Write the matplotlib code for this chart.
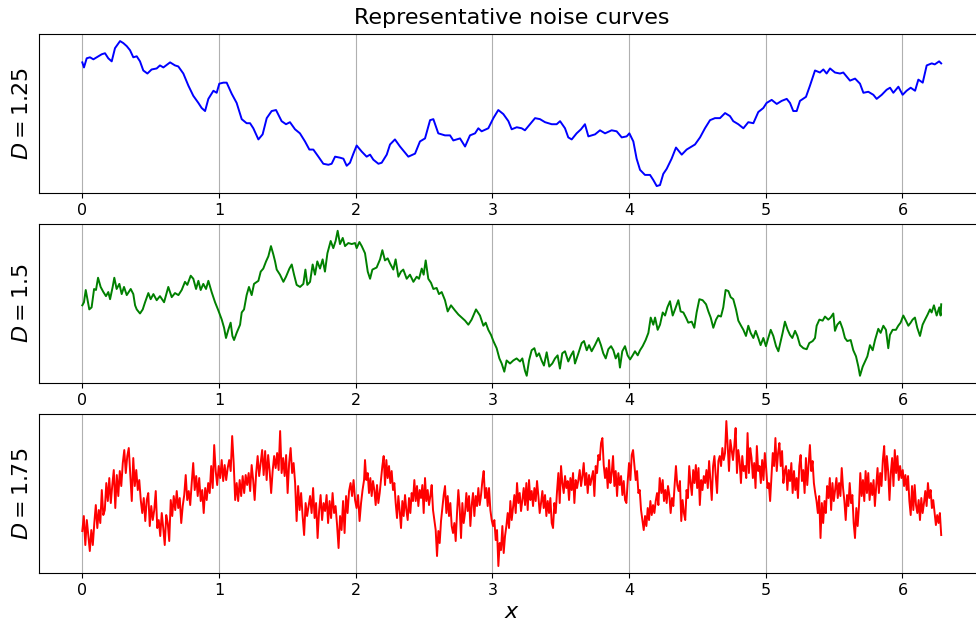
import numpy as np
import matplotlib
matplotlib.use("Agg")
import matplotlib.pyplot as plt

# values (x in radians, y in arbitrary units)
blue_x = [0.000, 0.012, 0.032, 0.056, 0.081, 0.105, 0.142, 0.166, 0.190, 0.215,
          0.239, 0.276, 0.300, 0.325, 0.349, 0.373, 0.398, 0.422, 0.446, 0.476,
          0.507, 0.544, 0.568, 0.593, 0.642, 0.678, 0.702, 0.739, 0.776, 0.812,
          0.849, 0.873, 0.898, 0.922, 0.959, 0.983, 1.002, 1.032, 1.056, 1.093,
          1.129, 1.166, 1.202, 1.227, 1.251, 1.288, 1.319, 1.349, 1.385, 1.417,
          1.458, 1.490, 1.519, 1.556, 1.592, 1.629, 1.661, 1.690, 1.727, 1.763,
          1.800, 1.824, 1.849, 1.885, 1.910, 1.934, 1.958, 1.983, 2.007, 2.044,
          2.080,
          2.105, 2.129, 2.166, 2.190, 2.227, 2.251, 2.287, 2.324, 2.385, 2.434,
          2.470, 2.507, 2.544, 2.568, 2.604, 2.653, 2.690, 2.714, 2.763, 2.800,
          2.836, 2.873, 2.897, 2.921, 2.970, 3.007, 3.043, 3.080, 3.117, 3.141,
          3.178, 3.214, 3.238, 3.263, 3.312, 3.348, 3.385, 3.434, 3.470, 3.495,
          3.531, 3.555, 3.580, 3.616, 3.648, 3.677, 3.702, 3.751, 3.787, 3.824,
          3.872, 3.909, 3.946, 3.982, 4.002, 4.031, 4.055, 4.080, 4.116, 4.153,
          4.177, 4.202, 4.226,
          4.250, 4.275, 4.311, 4.343, 4.385, 4.421, 4.458, 4.482, 4.519, 4.555,
          4.592, 4.628, 4.665, 4.702, 4.738, 4.762, 4.799, 4.836, 4.872, 4.909,
          4.945, 4.982, 5.006, 5.043, 5.080, 5.116, 5.153, 5.177, 5.201, 5.226,
          5.250, 5.294, 5.323, 5.360, 5.396, 5.421, 5.445, 5.470, 5.506, 5.543,
          5.567, 5.616, 5.653, 5.689, 5.714, 5.750, 5.787, 5.811, 5.848, 5.884,
          5.909, 5.933, 5.970, 6.001, 6.030, 6.060, 6.092, 6.116, 6.148, 6.177,
          6.214, 6.236, 6.268, 6.283]
blue_y = [1.30, 1.25, 1.34, 1.35, 1.33, 1.35, 1.38, 1.39, 1.34, 1.31,
          1.44, 1.51, 1.49, 1.46, 1.42, 1.35, 1.36, 1.31, 1.22, 1.19,
          1.23, 1.24, 1.27, 1.25, 1.30, 1.27, 1.26, 1.19, 1.07, 0.97,
          0.90, 0.85, 0.82, 0.94, 1.02, 1.00, 1.09, 1.10, 1.10, 0.99,
          0.90, 0.74, 0.70, 0.70, 0.65, 0.54, 0.59, 0.75, 0.82, 0.83,
          0.72, 0.69, 0.71, 0.64, 0.60, 0.52, 0.44, 0.44, 0.37, 0.30,
          0.29, 0.30, 0.37, 0.36, 0.35, 0.28, 0.31, 0.40, 0.48, 0.42,
          0.37,
          0.39, 0.34, 0.30, 0.31, 0.39, 0.49, 0.54, 0.47, 0.37, 0.40,
          0.52, 0.55, 0.73, 0.74, 0.60, 0.58, 0.58, 0.53, 0.55, 0.47,
          0.58, 0.60, 0.65, 0.62, 0.65, 0.75, 0.83, 0.79, 0.72, 0.64,
          0.66, 0.65, 0.63, 0.67, 0.75, 0.74, 0.71, 0.69, 0.69, 0.72,
          0.65, 0.56, 0.54, 0.60, 0.64, 0.69, 0.57, 0.59, 0.63, 0.60,
          0.63, 0.62, 0.56, 0.57, 0.60, 0.52, 0.35, 0.24, 0.19, 0.19,
          0.14, 0.08, 0.09,
          0.20, 0.25, 0.35, 0.46, 0.39, 0.44, 0.47, 0.49, 0.56, 0.65,
          0.73, 0.75, 0.75, 0.80, 0.77, 0.72, 0.69, 0.65, 0.71, 0.70,
          0.81, 0.85, 0.90, 0.93, 0.89, 0.92, 0.94, 0.90, 0.82, 0.82,
          0.92, 0.96, 1.07, 1.22, 1.20, 1.23, 1.19, 1.24, 1.20, 1.19,
          1.20, 1.12, 1.14, 1.09, 1.00, 1.01, 0.98, 0.94, 0.98, 1.03,
          1.05, 1.00, 1.06, 0.98, 1.02, 1.05, 1.02, 1.13, 1.10, 1.27,
          1.29, 1.28, 1.31, 1.29]

green_x = [0.000, 0.012, 0.025, 0.037, 0.051, 0.068, 0.086, 0.100, 0.115, 0.134,
           0.154, 0.173, 0.190, 0.203, 0.222, 0.234, 0.251, 0.271, 0.288, 0.305,
           0.325, 0.354, 0.373, 0.386, 0.398, 0.422, 0.442, 0.459, 0.483, 0.500,
           0.520, 0.544, 0.568, 0.598, 0.629, 0.654, 0.678, 0.703, 0.727, 0.751,
           0.768, 0.793, 0.812, 0.832, 0.849, 0.866, 0.885, 0.905, 0.922, 0.946,
           0.971, 0.995, 1.020, 1.037, 1.051, 1.068, 1.085, 1.098, 1.110, 1.129,
           1.154, 1.166, 1.183, 1.202, 1.219, 1.239, 1.256, 1.288, 1.305, 1.324,
           1.344, 1.361, 1.380, 1.397, 1.410, 1.422, 1.446, 1.471, 1.490, 1.515,
           1.532, 1.549, 1.568, 1.593, 1.617, 1.632, 1.646, 1.666, 1.685, 1.702,
           1.719, 1.739, 1.758, 1.775, 1.793, 1.817, 1.836, 1.853, 1.868, 1.885,
           1.905, 1.922, 1.946, 1.971, 1.995, 2.007, 2.027, 2.044,
           2.068, 2.088, 2.105, 2.122, 2.153, 2.178, 2.195, 2.214, 2.234, 2.251,
           2.275, 2.292, 2.312, 2.331, 2.348, 2.373, 2.397, 2.422, 2.446, 2.463,
           2.483, 2.497, 2.512, 2.531, 2.551, 2.568, 2.592, 2.609, 2.629, 2.653,
           2.673, 2.697, 2.726, 2.751, 2.775, 2.800, 2.824, 2.848, 2.880, 2.909,
           2.934, 2.951, 2.970, 2.990, 3.007, 3.031, 3.051, 3.068, 3.087, 3.104,
           3.129, 3.153, 3.177, 3.202, 3.219, 3.238, 3.251, 3.268, 3.287, 3.307,
           3.324, 3.341, 3.360, 3.377, 3.397, 3.416, 3.438, 3.458, 3.477, 3.494,
           3.511, 3.531, 3.555, 3.575, 3.592, 3.604, 3.629, 3.653, 3.670, 3.690,
           3.707, 3.726, 3.750, 3.775, 3.794, 3.811, 3.829, 3.848, 3.868, 3.885,
           3.902, 3.921, 3.933, 3.950, 3.970, 3.989, 4.007, 4.026, 4.043, 4.063,
           4.080, 4.099, 4.121, 4.141, 4.158, 4.177, 4.190, 4.209,
           4.226, 4.246, 4.263, 4.280, 4.299, 4.319, 4.336, 4.360, 4.377, 4.397,
           4.416, 4.433, 4.458, 4.477, 4.494, 4.514, 4.538, 4.563, 4.580, 4.597,
           4.616, 4.636, 4.653, 4.672, 4.689, 4.706, 4.726, 4.743, 4.762, 4.782,
           4.799, 4.819, 4.836, 4.855, 4.872, 4.889, 4.909, 4.926, 4.945, 4.962,
           4.982, 5.001, 5.018, 5.036, 5.055, 5.075, 5.092, 5.109, 5.123, 5.140,
           5.160, 5.177, 5.194, 5.214, 5.231, 5.250, 5.275, 5.299, 5.318, 5.343,
           5.360, 5.372, 5.392, 5.416, 5.433, 5.457, 5.474, 5.494, 5.506, 5.523,
           5.543, 5.562, 5.579, 5.596, 5.621, 5.640, 5.660, 5.677, 5.689, 5.709,
           5.726, 5.743, 5.762, 5.782, 5.799, 5.823, 5.840, 5.860, 5.879, 5.896,
           5.908, 5.928, 5.952, 5.969, 5.986, 6.006, 6.025, 6.043, 6.060, 6.074,
           6.091, 6.108, 6.128, 6.147, 6.165, 6.184, 6.201, 6.213, 6.230, 6.250,
           6.269, 6.279, 6.283]
green_y = [0.77, 0.80, 0.92, 0.83, 0.73, 0.75, 0.93, 0.92, 1.04, 0.95,
           0.90, 0.86, 0.90, 0.83, 0.95, 1.04, 0.93, 0.98, 0.88, 0.95,
           0.87, 0.93, 0.88, 0.77, 0.73, 0.69, 0.73, 0.80, 0.89, 0.83,
           0.88, 0.82, 0.86, 0.80, 0.95, 0.85, 0.89, 0.87, 0.92, 1.00,
           0.97, 1.06, 1.03, 0.93, 1.01, 0.92, 0.98, 0.93, 1.01, 0.90,
           0.80, 0.72, 0.63, 0.55, 0.45, 0.53, 0.60, 0.47, 0.43, 0.50,
           0.58, 0.70, 0.73, 0.87, 0.95, 0.87, 0.98, 1.01, 1.10, 1.13,
           1.20, 1.25, 1.35, 1.27, 1.20, 1.12, 1.07, 1.00, 1.05, 1.13,
           1.17, 1.07, 0.97, 0.95, 0.98, 1.12, 0.97, 1.00, 1.17, 1.07,
           1.20, 1.13, 1.22, 1.10, 1.28, 1.40, 1.33, 1.40, 1.50, 1.37,
           1.43, 1.35, 1.38, 1.37, 1.38, 1.33, 1.39, 1.35,
           1.28, 1.10, 1.03, 1.12, 1.14, 1.22, 1.31, 1.21, 1.23, 1.18,
           1.12, 1.22, 1.05, 1.10, 1.12, 1.03, 1.07, 1.00, 1.05, 1.03,
           1.13, 1.07, 1.21, 1.03, 0.99, 0.93, 0.94, 0.88, 0.90, 0.82,
           0.71, 0.77, 0.72, 0.68, 0.65, 0.62, 0.58, 0.63, 0.73, 0.67,
           0.57, 0.60, 0.53, 0.48, 0.42, 0.35, 0.25, 0.20, 0.12, 0.23,
           0.20, 0.23, 0.25, 0.22, 0.25, 0.13, 0.08, 0.23, 0.33, 0.35,
           0.27, 0.30, 0.23, 0.18, 0.31, 0.17, 0.20, 0.25, 0.28, 0.15,
           0.30, 0.32, 0.22, 0.28, 0.32, 0.20, 0.30, 0.40, 0.42, 0.33,
           0.38, 0.32, 0.38, 0.45, 0.38, 0.30, 0.25, 0.34, 0.37, 0.33,
           0.25, 0.30, 0.16, 0.32, 0.37, 0.28, 0.24, 0.28, 0.32, 0.28,
           0.33, 0.37, 0.43, 0.50, 0.65, 0.58, 0.65, 0.53,
           0.58, 0.70, 0.67, 0.75, 0.81, 0.67, 0.73, 0.82, 0.71, 0.70,
           0.65, 0.60, 0.61, 0.55, 0.70, 0.83, 0.82, 0.78, 0.71, 0.65,
           0.55, 0.63, 0.67, 0.66, 0.75, 0.92, 0.91, 0.85, 0.83, 0.73,
           0.62, 0.57, 0.53, 0.47, 0.57, 0.50, 0.45, 0.52, 0.45, 0.38,
           0.45, 0.37, 0.45, 0.53, 0.47, 0.37, 0.32, 0.42, 0.50, 0.61,
           0.53, 0.48, 0.45, 0.52, 0.47, 0.38, 0.35, 0.34, 0.40, 0.42,
           0.45, 0.57, 0.63, 0.62, 0.66, 0.63, 0.65, 0.69, 0.52, 0.58,
           0.61, 0.54, 0.45, 0.42, 0.43, 0.33, 0.27, 0.17, 0.08, 0.17,
           0.22, 0.27, 0.38, 0.33, 0.43, 0.54, 0.50, 0.57, 0.53, 0.35,
           0.48, 0.53, 0.53, 0.57, 0.60, 0.67, 0.62, 0.57, 0.60, 0.63,
           0.65, 0.55, 0.47, 0.58, 0.63, 0.68, 0.73, 0.70, 0.77, 0.67,
           0.75, 0.67, 0.78]

# red curve read in three stretches, each sampled evenly across its x range
red_y_a = [0.42, 0.57, 0.28, 0.53, 0.38, 0.22, 0.43, 0.28, 0.50, 0.68,
           0.45, 0.63, 0.50, 0.83, 0.58, 0.63, 0.90, 0.72, 0.95, 0.70,
           0.88, 1.03, 0.65, 0.98, 0.77, 1.02, 0.87, 1.10, 1.23, 1.00,
           1.17, 1.25, 0.98, 0.72, 1.15, 0.87, 1.03, 0.83, 0.93, 0.73,
           0.60, 0.75, 0.52, 0.73, 0.80, 0.47, 0.67, 0.53, 0.63, 0.82,
           0.45, 0.53, 0.37, 0.60, 0.45, 0.28, 0.58, 0.50, 0.32, 0.73,
           0.57, 0.77, 0.63, 0.82, 0.65, 0.75, 0.50, 0.67, 0.78, 0.98,
           0.73, 0.82, 0.68, 0.90, 1.10, 0.83, 0.97, 0.77, 0.95, 0.72,
           0.83, 0.60, 0.85, 0.73, 0.90, 0.80, 1.07, 0.85, 1.28, 1.02,
           0.88, 1.07, 0.95, 1.13, 0.92, 1.08, 0.93, 1.05, 1.13, 1.02,
           1.37, 1.10, 0.73, 0.90, 0.72, 0.93, 0.77, 0.97, 0.80, 0.98,
           0.88, 1.00, 0.82, 1.08, 0.93, 0.73, 1.00, 1.17, 0.97, 1.10,
           1.23, 0.98, 1.22, 0.93, 1.18, 1.02, 0.80, 1.02, 1.17, 1.05,
           1.20, 1.03, 1.42, 1.00, 1.15, 0.97, 1.18, 0.80, 1.10, 1.25,
           1.00, 1.10, 0.90, 0.52, 0.87, 0.63, 0.80, 0.57, 0.38, 0.70,
           0.57, 0.67, 0.77, 0.60, 0.85, 0.55, 0.70, 0.35, 0.62, 0.78,
           0.53, 0.70, 0.62, 0.78, 0.50, 0.72, 0.55, 0.80, 0.60, 0.67,
           0.48, 0.25, 0.57, 0.43, 0.72, 0.40, 0.77, 0.60, 0.82, 0.90,
           0.77, 0.93, 0.73, 0.65, 0.78, 0.52, 0.70, 0.83, 0.93]
red_y_b = [1.13, 0.93, 1.00, 0.80, 0.95, 0.77, 0.92, 0.83, 0.68, 0.88,
           0.70, 0.80, 0.93, 1.07, 1.17, 0.88, 1.13, 0.95, 1.07, 0.90,
           1.02, 0.83, 0.90, 0.70, 0.55, 0.77, 0.62, 0.45, 0.72, 0.57,
           0.78, 0.63, 0.53, 0.75, 0.60, 0.80, 0.72, 0.93, 0.72, 0.87,
           0.67, 0.83, 0.75, 0.88, 0.60, 0.95, 0.72, 0.83, 0.68, 0.77,
           0.88, 0.63, 0.53, 0.43, 0.17, 0.42, 0.30, 0.52, 0.65, 0.78,
           0.87, 0.60, 0.77, 0.57, 0.70, 0.47, 0.40, 0.50, 0.32, 0.60,
           0.83, 0.65, 0.35, 0.70, 0.50, 0.60, 0.80, 0.62, 0.77, 0.47,
           0.68, 0.80, 0.57, 0.77, 0.67, 0.85, 0.68, 0.78, 0.92, 1.02,
           0.75, 0.85, 0.67, 0.85, 0.63, 0.53, 0.47, 0.53, 0.33, 0.43,
           0.07, 0.30, 0.23, 0.47, 0.20, 0.37, 0.47, 0.60, 0.45, 0.72,
           0.53, 0.65, 0.78, 0.60, 0.90, 0.70, 0.80, 0.62, 0.73, 0.85,
           0.68, 0.90, 0.63, 0.93, 0.73, 0.82, 0.67, 0.85, 0.72, 0.92,
           0.77, 0.60, 0.70, 0.82, 0.65, 0.78, 0.57, 0.72, 0.60, 0.75,
           0.50, 0.45, 0.70, 0.60, 0.82, 1.00, 0.70, 1.07, 0.90, 0.80,
           0.97, 0.85, 0.92, 0.73, 0.95, 0.83, 1.00, 0.70, 0.93, 0.85,
           0.93, 1.03, 0.87, 0.97, 1.10, 0.88, 1.00, 0.80, 0.98, 0.88,
           0.95, 1.02, 0.77, 1.07, 1.00, 1.18, 1.13, 1.30, 1.35, 1.08,
           0.95, 1.05, 0.85, 1.13, 0.90, 1.00, 1.17, 0.87, 1.02, 0.77,
           1.00, 0.88, 0.97, 0.78, 0.92, 0.73, 0.70, 0.92, 1.10, 0.93,
           1.18, 1.23, 1.08, 0.93, 1.02, 0.80, 0.83, 0.63, 0.53, 0.43,
           0.57, 0.47, 0.65, 0.53, 0.72, 0.58, 0.68, 0.60, 0.72, 0.80,
           0.68, 0.95]
red_y_c = [0.80, 0.93, 0.72, 0.83, 0.70, 0.87, 0.78, 0.60, 0.75, 0.67,
           0.88, 1.07, 0.88, 0.82, 0.92, 0.52, 0.73, 0.60, 0.53, 0.83,
           0.75, 1.07, 0.90, 0.78, 1.03, 0.90, 1.08, 0.85, 1.05, 0.68,
           0.93, 0.83, 0.97, 0.90, 1.03, 0.85, 1.12, 0.93, 0.73, 1.07,
           1.17, 0.97, 0.80, 1.12, 1.17, 1.07, 1.25, 1.13, 1.20, 1.52,
           1.27, 1.02, 1.33, 1.23, 1.13, 1.27, 1.45, 1.00, 1.23, 1.12,
           0.90, 1.17, 1.02, 1.07, 0.95, 1.40, 1.00, 1.25, 1.15, 0.95,
           1.10, 0.85, 1.27, 1.02, 1.07, 0.90, 1.13, 0.93, 1.20, 1.05,
           0.85, 0.90, 0.72, 0.97, 1.20, 1.07, 1.35, 1.02, 1.20, 1.30,
           1.07, 1.22, 0.90, 1.02, 1.07, 0.83, 1.03, 0.92, 1.10, 0.80,
           1.02, 0.83, 0.95, 0.75, 1.07, 1.18, 0.92, 1.03, 0.80, 1.15,
           0.88, 1.08, 1.28, 1.02, 1.12, 0.90, 0.80, 0.72, 0.60, 0.77,
           0.35, 0.70, 0.50, 0.72, 0.60, 0.87, 0.75, 0.95, 0.63, 0.90,
           0.72, 0.83, 0.95, 0.75, 0.90, 0.77, 1.05, 0.85, 0.72, 0.53,
           0.78, 0.67, 0.90, 0.70, 0.78, 0.50, 0.35, 0.65, 0.47, 0.67,
           1.00, 0.77, 0.93, 0.72, 1.02, 0.80, 1.00, 0.73, 0.90, 0.78,
           0.93, 0.67, 0.87, 1.05, 0.80, 1.00, 0.87, 1.13, 1.27, 0.93,
           1.17, 1.02, 0.73, 1.00, 1.15, 0.87, 1.23, 1.00, 1.17, 0.93,
           1.07, 0.95, 1.03, 0.87, 0.98, 0.83, 0.97, 0.72, 0.58, 0.87,
           0.63, 0.88, 0.68, 0.60, 0.73, 0.53, 0.75, 0.60, 0.70, 0.82,
           0.67, 0.90, 0.75, 0.83, 0.65, 0.73, 0.60, 0.48, 0.58, 0.50,
           0.60, 0.38]
red_ranges = [(0.0, 2.061), (2.068, 4.224), (4.236, 2 * np.pi)]

red_x = np.concatenate([np.linspace(a, b, len(seg))
                        for (a, b), seg in zip(red_ranges, [red_y_a, red_y_b, red_y_c])])
red_y = red_y_a + red_y_b + red_y_c

curves = [(blue_x, blue_y, 'b', '$D = 1.25$'),
          (green_x, green_y, 'g', '$D = 1.5$'),
          (red_x, red_y, 'r', '$D = 1.75$')]

fig = plt.figure(figsize=(9.76, 6.23), dpi=100)
bottoms = [0.6897, 0.3852, 0.0798]
axes = []
for (xs, ys, col, lab), b in zip(curves, bottoms):
    ax = fig.add_axes([39.4 / 976, b, 944.7 / 976, 0.256])
    ax.plot(xs, ys, color=col, lw=1.4)
    ax.set_xlim(-0.314, 6.597)
    ax.set_yticks([])
    ax.set_xticks(range(7))
    ax.tick_params(axis='x', labelsize=11.5)
    ax.grid(True, axis='x')
    ax.set_ylabel(lab, fontsize=16, labelpad=5)
    axes.append(ax)

axes[0].set_title('Representative noise curves', fontsize=16, pad=7)
axes[-1].set_xlabel('$x$', fontsize=16, labelpad=3)

plt.savefig('out.png', dpi=100)
